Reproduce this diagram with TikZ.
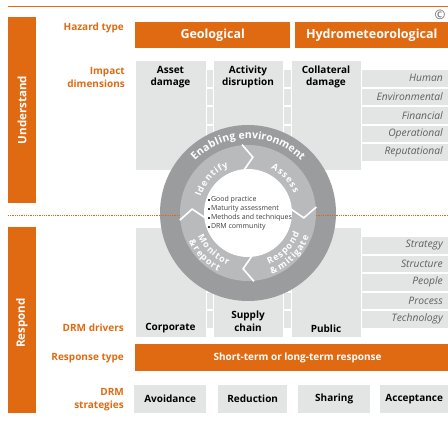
\documentclass[tikz,border=0pt]{standalone}
\usepackage{fontspec}
\setmainfont{Open Sans}
\usetikzlibrary{decorations.text}
\definecolor{org}{RGB}{224,106,18}
\definecolor{lg}{RGB}{227,228,228}
\definecolor{ringc}{RGB}{155,156,158}
\definecolor{arrc}{RGB}{185,186,188}
\definecolor{itg}{RGB}{95,95,95}
\definecolor{dtx}{RGB}{60,60,60}
\tikzset{
 obox/.style={fill=org, inner sep=0pt, anchor=north west, text=white, font=\bfseries\fontsize{12.5}{14}\selectfont},
 gbox/.style={fill=lg, draw=white, line width=0.8pt, inner sep=0pt, anchor=north west},
 sbox/.style={fill=lg, inner sep=0pt, anchor=north west, font=\bfseries\fontsize{10}{12}\selectfont},
 rowbar/.style={fill=lg, inner sep=0pt, anchor=north west, minimum width=242pt, minimum height=16.5pt},
 sidelbl/.style={text=org, font=\bfseries\fontsize{10}{13}\selectfont, align=right, anchor=east, inner sep=0pt},
 rowlbl/.style={text=itg, font=\itshape\fontsize{10.3}{11}\selectfont, anchor=east, inner sep=0pt},
 coltxt/.style={font=\bfseries\fontsize{10}{12.5}\selectfont, align=center, inner sep=0pt, text=black},
 bartxt/.style={text=white, font=\bfseries\fontsize{11.5}{13}\selectfont, rotate=90, inner sep=0pt},
 chev/.style={draw=white, line width=1.6pt},
 disc/.style={circle, inner sep=0pt},
}
\begin{document}
\begin{tikzpicture}[x=1pt,y=-1pt]
\useasboundingbox (0,0) rectangle (448,422);
% top rule and copyright
\coordinate (tl) at (8,6);
\coordinate (tr) at (448,6);
\draw[org, line width=0.8pt] (tl) -- (tr);
\node[text=itg, font=\fontsize{13}{13}\selectfont, inner sep=0pt] (copy) at (440,14.5) {\textcopyright};
% side bars
\node[obox, minimum width=28pt, minimum height=186pt] (ub) at (8,17) {};
\node[bartxt] (ut) at (22,110) {Understand};
\node[obox, minimum width=28pt, minimum height=186pt] (rb) at (8,227) {};
\node[bartxt] (rt) at (22,323) {Respond};
% hazard type
\node[sidelbl] (hz) at (124,28) {Hazard type};
\node[obox, minimum width=155pt, minimum height=26pt] (geo) at (135,22) {Geological};
\node[obox, minimum width=153pt, minimum height=26pt] (hyd) at (295,22) {Hydrometeorological};
% impact dimensions
\node[sidelbl] (imp) at (125,77.5) {Impact\\dimensions};
% row stripes upper
\node[rowbar] (r1) at (206,70) {};
\node[rowbar] (r2) at (206,88.5) {};
\node[rowbar] (r3) at (206,107) {};
\node[rowbar] (r4) at (206,125.5) {};
\node[rowbar] (r5) at (206,144) {};
% row stripes lower
\node[rowbar] (s1) at (206,237) {};
\node[rowbar] (s2) at (206,255.5) {};
\node[rowbar] (s3) at (206,274) {};
\node[rowbar] (s4) at (206,292.5) {};
\node[rowbar] (s5) at (206,311) {};
% columns upper
\node[gbox, minimum width=71pt, minimum height=110pt] (c1) at (135,60) {};
\node[gbox, minimum width=70pt, minimum height=110pt] (c2) at (213,60) {};
\node[gbox, minimum width=70pt, minimum height=110pt] (c3) at (291,60) {};
\node[coltxt] (c1t) at (170.5,77) {Asset\\damage};
\node[coltxt] (c2t) at (248,77) {Activity\\disruption};
\node[coltxt] (c3t) at (326,77) {Collateral\\damage};
% columns lower
\node[gbox, minimum width=71pt, minimum height=110pt] (d1) at (135,227) {};
\node[gbox, minimum width=70pt, minimum height=110pt] (d2) at (213,227) {};
\node[gbox, minimum width=70pt, minimum height=110pt] (d3) at (291,227) {};
\node[coltxt] (d1t) at (170.5,328) {Corporate};
\node[coltxt] (d2t) at (248,321.5) {Supply\\chain};
\node[coltxt] (d3t) at (326,329) {Public};
\node[sidelbl] (drv) at (124,328) {DRM drivers};
% row labels
\node[rowlbl] (r1t) at (443,78.25) {Human};
\node[rowlbl] (r2t) at (443,96.75) {Environmental};
\node[rowlbl] (r3t) at (443,115.25) {Financial};
\node[rowlbl] (r4t) at (443,133.75) {Operational};
\node[rowlbl] (r5t) at (443,152.25) {Reputational};
\node[rowlbl] (s1t) at (443,245.25) {Strategy};
\node[rowlbl] (s2t) at (443,263.75) {Structure};
\node[rowlbl] (s3t) at (443,282.25) {People};
\node[rowlbl] (s4t) at (443,300.75) {Process};
\node[rowlbl] (s5t) at (443,319.25) {Technology};
% circle
\node[disc, fill=ringc, minimum size=176pt] (outer) at (248,213) {};
\coordinate (dl) at (8,215);
\coordinate (dr) at (448,215);
\draw[org, line width=0.7pt, dash pattern=on 0.9pt off 0.9pt] (dl) -- (dr);
\node[disc, fill=arrc, minimum size=136pt] (mid) at (248,213) {};
\node[disc, fill=white, minimum size=88pt] (inner) at (248,213) {};
\begin{scope}[shift={(248,213)}, y=1pt]
 \foreach \t in {90,0,270,181}{
  \draw[chev] (\t+5:68.6pt) -- (\t-5:56pt) -- (\t+5:43.4pt);
 }
 \path[decorate, decoration={text along path, text align=center,
   text={|\color{white}\bfseries\fontsize{10.5}{10.5}\selectfont|E{\kern0.3pt}n{\kern0.3pt}a{\kern0.3pt}b{\kern0.3pt}l{\kern0.3pt}i{\kern0.3pt}n{\kern0.3pt}g environment}}]
   (180:74.5pt) arc[start angle=180, end angle=0, radius=74.5pt];
 \path[decorate, decoration={text along path, text align=center,
   text={|\color{white}\bfseries\fontsize{9}{9}\selectfont|I{\kern1pt}d{\kern1pt}e{\kern1pt}n{\kern1pt}t{\kern1pt}i{\kern1pt}f{\kern1pt}y}}]
   (180:50pt) arc[start angle=180, end angle=94, radius=50pt];
 \path[decorate, decoration={text along path, text align=center,
   text={|\color{white}\bfseries\fontsize{9}{9}\selectfont|A{\kern1pt}s{\kern1pt}s{\kern1pt}e{\kern1pt}s{\kern1pt}s}}]
   (86:50pt) arc[start angle=86, end angle=0, radius=50pt];
 \path[decorate, decoration={text along path, text align=center,
   text={|\color{white}\bfseries\fontsize{9}{9}\selectfont|R{\kern1pt}e{\kern1pt}s{\kern1pt}p{\kern1pt}o{\kern1pt}n{\kern1pt}d}}]
   (270:55.5pt) arc[start angle=270, end angle=360, radius=55.5pt];
 \path[decorate, decoration={text along path, text align=center,
   text={|\color{white}\bfseries\fontsize{9}{9}\selectfont|{\&} m{\kern1pt}i{\kern1pt}t{\kern1pt}i{\kern1pt}g{\kern1pt}a{\kern1pt}t{\kern1pt}e}}]
   (270:65.5pt) arc[start angle=270, end angle=360, radius=65.5pt];
 \path[decorate, decoration={text along path, text align=center,
   text={|\color{white}\bfseries\fontsize{9}{9}\selectfont|M{\kern1pt}o{\kern1pt}n{\kern1pt}i{\kern1pt}t{\kern1pt}o{\kern1pt}r}}]
   (180:55.5pt) arc[start angle=180, end angle=274, radius=55.5pt];
 \path[decorate, decoration={text along path, text align=center,
   text={|\color{white}\bfseries\fontsize{9}{9}\selectfont|{\&} r{\kern1pt}e{\kern1pt}p{\kern1pt}o{\kern1pt}r{\kern1pt}t}}]
   (180:65.5pt) arc[start angle=180, end angle=268, radius=65.5pt];
\end{scope}
\node[anchor=west, align=left, inner sep=0pt, text=dtx, font=\fontsize{7}{9}\selectfont] (inn) at (208,213.5)
 {\raisebox{1pt}{\rule{1.7pt}{1.7pt}}\,Good practice\\
  \raisebox{1pt}{\rule{1.7pt}{1.7pt}}\,Maturity assessment\\
  \raisebox{1pt}{\rule{1.7pt}{1.7pt}}\,Methods and techniques\\
  \raisebox{1pt}{\rule{1.7pt}{1.7pt}}\,DRM community};
% response type
\node[sidelbl] (rtl) at (124,358) {Response type};
\node[obox, minimum width=313pt, minimum height=27pt] (resp) at (135,344) {};
\node[text=white, inner sep=0pt, font=\bfseries\fontsize{10}{11}\selectfont] (respt) at (297.5,357.5) {Short-term or long-term response};
% strategies
\node[sidelbl] (stl) at (124,399.5) {DRM\\strategies};
\node[sbox, minimum width=72pt, minimum height=28pt] (st1) at (134,385) {Avoidance};
\node[sbox, minimum width=69pt, minimum height=28pt] (st2) at (218,385) {Reduction};
\node[sbox, minimum width=72pt, minimum height=28pt] (st3) at (298,385) {Sharing};
\node[sbox, minimum width=68pt, minimum height=28pt] (st4) at (380,385) {Acceptance};
\end{tikzpicture}
\end{document}
